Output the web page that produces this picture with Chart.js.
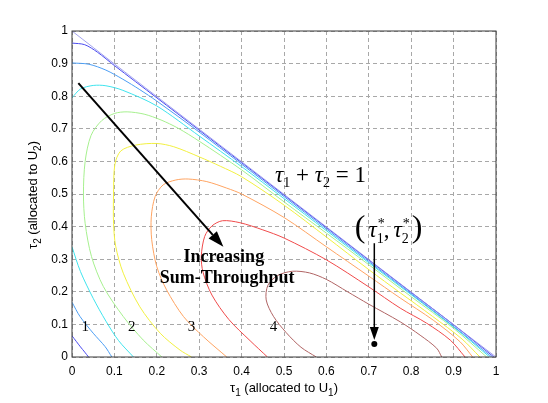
<!DOCTYPE html>
<html>
<head>
<meta charset="utf-8">
<title>Sum-Throughput Contours</title>
<script src="https://cdn.jsdelivr.net/npm/chart.js@4"></script>
<style>
  body { margin: 0; background: #fff; }
  #box { width: 548px; height: 403px; }
</style>
</head>
<body>
<div id="box"><canvas id="contourChart" width="548" height="403"></canvas></div>
<script>
  // ticks (same for both axes)
  const tickValues = [0, 0.1, 0.2, 0.3, 0.4, 0.5, 0.6, 0.7, 0.8, 0.9, 1];
  const tickLabels = ['0', '0.1', '0.2', '0.3', '0.4', '0.5', '0.6', '0.7', '0.8', '0.9', '1'];

  // contour lines, [tau1, tau2] pairs, lowest level first
  const levelDiag = [[0, 1], [0.1, 0.899], [0.3, 0.699], [0.5, 0.499], [0.7, 0.299], [0.9, 0.099], [1, 0]];
  const levelBlueLow = [[0, 0.065], [0.01, 0.048], [0.02, 0.031], [0.03, 0.015], [0.039, 0]];
  const levelBlueHigh = [[0, 0.963], [0.03, 0.958], [0.06, 0.935], [0.1, 0.894], [0.2, 0.795], [0.4, 0.596], [0.6, 0.397], [0.8, 0.198], [0.9, 0.099], [0.995, 0]];
  const levelSkyLow = [[0, 0.168], [0.019, 0.124], [0.05, 0.073], [0.078, 0.032], [0.094, 0]];
  const levelSkyHigh = [[0, 0.902], [0.04, 0.898], [0.08, 0.88], [0.12, 0.852], [0.16, 0.82], [0.2, 0.785], [0.3, 0.69], [0.5, 0.492], [0.7, 0.293], [0.9, 0.094], [0.99, 0]];
  const levelCyanLow = [[0, 0.338], [0.02, 0.262], [0.05, 0.18], [0.08, 0.11], [0.11, 0.05], [0.145, 0]];
  const levelCyanHigh = [[0, 0.795], [0.02, 0.822], [0.05, 0.833], [0.08, 0.832], [0.12, 0.818], [0.2, 0.77], [0.3, 0.678], [0.4, 0.584], [0.5, 0.486], [0.7, 0.289], [0.9, 0.092], [0.985, 0]];
  const levelGreen = [[0.212, 0], [0.168, 0.052], [0.121, 0.124], [0.074, 0.216], [0.046, 0.308], [0.031, 0.41], [0.027, 0.5], [0.031, 0.6], [0.045, 0.68], [0.07, 0.725], [0.1, 0.747], [0.13, 0.752], [0.17, 0.745], [0.21, 0.727], [0.25, 0.702], [0.3, 0.662], [0.4, 0.574], [0.5, 0.476], [0.6, 0.38], [0.7, 0.283], [0.8, 0.185], [0.9, 0.088], [0.978, 0]];
  const levelYellow = [[0.282, 0], [0.255, 0.021], [0.208, 0.073], [0.16, 0.154], [0.121, 0.257], [0.103, 0.34], [0.098, 0.41], [0.098, 0.5], [0.101, 0.59], [0.115, 0.632], [0.15, 0.65], [0.2, 0.655], [0.24, 0.645], [0.3, 0.614], [0.35, 0.585], [0.4, 0.553], [0.5, 0.466], [0.6, 0.368], [0.7, 0.268], [0.774, 0.197], [0.85, 0.125], [0.92, 0.055], [0.962, 0]];
  const levelOrange = [[0.365, 0], [0.31, 0.062], [0.263, 0.124], [0.223, 0.206], [0.2, 0.277], [0.188, 0.36], [0.187, 0.43], [0.196, 0.492], [0.215, 0.528], [0.245, 0.543], [0.274, 0.546], [0.318, 0.538], [0.365, 0.518], [0.4, 0.5], [0.5, 0.428], [0.6, 0.338], [0.7, 0.248], [0.774, 0.181], [0.852, 0.113], [0.915, 0.047], [0.945, 0]];
  const levelRed = [[0.461, 0], [0.42, 0.05], [0.37, 0.115], [0.33, 0.19], [0.309, 0.26], [0.305, 0.31], [0.313, 0.37], [0.33, 0.402], [0.355, 0.418], [0.396, 0.412], [0.45, 0.39], [0.5, 0.365], [0.6, 0.298], [0.7, 0.215], [0.774, 0.15], [0.836, 0.104], [0.892, 0.052], [0.927, 0]];
  const levelBrown = [[0.576, 0], [0.54, 0.03], [0.505, 0.075], [0.475, 0.125], [0.458, 0.175], [0.462, 0.22], [0.485, 0.25], [0.52, 0.263], [0.56, 0.258], [0.6, 0.238], [0.65, 0.2], [0.7, 0.162], [0.774, 0.108], [0.821, 0.067], [0.86, 0.027], [0.872, 0]];

  // optimum point and the level numbers written on the plot
  const optimumPoint = [0.713, 0.04];
  const levelNames = ['1', '2', '3', '4'];
  const levelNameX = [0.031, 0.141, 0.282, 0.475];
  const levelNameY = 0.093;

  const contours = [
    { pts: levelDiag, color: '#8c8ce8', width: 0.8 },
    { pts: levelBlueLow, color: '#4a4af0', width: 1 },
    { pts: levelBlueHigh, color: '#4a4af0', width: 1 },
    { pts: levelSkyLow, color: '#4c9ef4', width: 1 },
    { pts: levelSkyHigh, color: '#4c9ef4', width: 1 },
    { pts: levelCyanLow, color: '#3fe4ee', width: 1 },
    { pts: levelCyanHigh, color: '#3fe4ee', width: 1 },
    { pts: levelGreen, color: '#a6f08e', width: 1 },
    { pts: levelYellow, color: '#f2f040', width: 1 },
    { pts: levelOrange, color: '#ffa462', width: 1 },
    { pts: levelRed, color: '#f04a4a', width: 1 },
    { pts: levelBrown, color: '#b06464', width: 1 }
  ];

  const serif = '"Liberation Serif", "Times New Roman", serif';
  const sans = '"Liberation Sans", Arial, sans-serif';

  // draw a row of text pieces, each with its own font and vertical shift
  function drawPieces(ctx, pieces, x, y, align) {
    let total = 0;
    pieces.forEach(p => {
      ctx.font = p.font;
      p.w = ctx.measureText(p.t).width;
      if (p.sup) {
        ctx.font = p.supFont;
        p.w = Math.max(p.w, ctx.measureText(p.sup).width);
      }
      total += p.w + (p.gap || 0);
    });
    let cx = align === 'center' ? x - total / 2 : x;
    ctx.textBaseline = 'alphabetic';
    ctx.textAlign = 'left';
    pieces.forEach(p => {
      ctx.font = p.font;
      ctx.fillText(p.t, cx, y + (p.dy || 0));
      if (p.sup) {
        ctx.font = p.supFont;
        ctx.fillText(p.sup, cx + 1, y + p.supDy);
      }
      cx += p.w + (p.gap || 0);
    });
  }

  function arrow(ctx, x1, y1, x2, y2, lw, headLen, headHalf) {
    const ang = Math.atan2(y2 - y1, x2 - x1);
    const bx = x2 - headLen * Math.cos(ang);
    const by = y2 - headLen * Math.sin(ang);
    ctx.beginPath();
    ctx.moveTo(x1, y1);
    ctx.lineTo(bx, by);
    ctx.lineWidth = lw;
    ctx.stroke();
    ctx.beginPath();
    ctx.moveTo(x2, y2);
    ctx.lineTo(bx + headHalf * Math.sin(ang), by - headHalf * Math.cos(ang));
    ctx.lineTo(bx - headHalf * Math.sin(ang), by + headHalf * Math.cos(ang));
    ctx.closePath();
    ctx.fill();
  }

  const decorations = {
    id: 'decorations',
    afterDatasetsDraw(chart) {
      const ctx = chart.ctx;
      const xs = chart.scales.x, ys = chart.scales.y;
      const a = chart.chartArea;
      const px = v => xs.getPixelForValue(v);
      const py = v => ys.getPixelForValue(v);
      ctx.save();

      // box around the plot
      ctx.strokeStyle = '#3a3a3a';
      ctx.lineWidth = 1;
      ctx.strokeRect(a.left, a.top, a.right - a.left, a.bottom - a.top);

      ctx.fillStyle = '#000';
      ctx.strokeStyle = '#000';

      // increasing direction arrow
      arrow(ctx, px(0.015), py(0.84), px(0.357), py(0.338), 2, 16, 5.5);
      // arrow down to the optimum
      arrow(ctx, px(optimumPoint[0]), py(0.349), px(optimumPoint[0]), py(0.052), 1.5, 13, 4.5);
      ctx.beginPath();
      ctx.arc(px(optimumPoint[0]), py(optimumPoint[1]), 3, 0, Math.PI * 2);
      ctx.fill();

      // text on the plot
      ctx.textAlign = 'center';
      ctx.textBaseline = 'middle';
      ctx.font = 'bold 18px ' + serif;
      ctx.fillText('Increasing', px(0.358), py(0.307));
      ctx.fillText('Sum-Throughput', px(0.366), py(0.242));

      ctx.font = '15px ' + serif;
      levelNames.forEach((n, i) => ctx.fillText(n, px(levelNameX[i]), py(levelNameY)));

      const big = '23px ' + serif, bigIt = 'italic 23px ' + serif, small = '14px ' + serif;
      drawPieces(ctx, [
        { t: '\u03c4', font: bigIt },
        { t: '1', font: small, dy: 5 },
        { t: ' + ', font: big },
        { t: '\u03c4', font: bigIt },
        { t: '2', font: small, dy: 5 },
        { t: ' = 1', font: big }
      ], px(0.479), py(0.537), 'left');

      drawPieces(ctx, [
        { t: '(', font: '32px ' + serif, gap: 3 },
        { t: '\u03c4', font: bigIt },
        { t: '1', font: small, dy: 6, sup: '*', supFont: small, supDy: -9 },
        { t: ',', font: big, gap: 4 },
        { t: '\u03c4', font: bigIt },
        { t: '2', font: small, dy: 6, sup: '*', supFont: small, supDy: -9, gap: 3 },
        { t: ')', font: '32px ' + serif }
      ], px(0.667), py(0.368), 'left');

      // axis titles
      const lab = '13px ' + sans, labSub = '10px ' + sans;
      drawPieces(ctx, [
        { t: '\u03c4', font: lab },
        { t: '1', font: labSub, dy: 4 },
        { t: ' (allocated to U', font: lab },
        { t: '1', font: labSub, dy: 4 },
        { t: ')', font: lab }
      ], (a.left + a.right) / 2, 392, 'center');

      ctx.translate(37, (a.top + a.bottom) / 2 + 1);
      ctx.rotate(-Math.PI / 2);
      drawPieces(ctx, [
        { t: '\u03c4', font: lab },
        { t: '2', font: labSub, dy: 4 },
        { t: ' (allocated to U', font: lab },
        { t: '2', font: labSub, dy: 4 },
        { t: ')', font: lab }
      ], 0, 0, 'center');

      ctx.restore();
    }
  };

  function axis(pos) {
    return {
      type: 'linear',
      position: pos,
      min: 0,
      max: 1,
      afterBuildTicks: scale => { scale.ticks = tickValues.map(v => ({ value: v })); },
      afterFit: scale => {
        if (pos === 'left') scale.width = 72; else scale.height = 46;
      },
      ticks: {
        autoSkip: false,
        maxRotation: 0,
        padding: pos === 'left' ? 4 : 7,
        color: '#000',
        font: { family: sans, size: 12 },
        callback: (v, i) => tickLabels[i]
      },
      grid: { color: '#a8a8a8', lineWidth: 1, drawTicks: false },
      border: { display: false, dash: [4, 3] }
    };
  }

  new Chart(document.getElementById('contourChart').getContext('2d'), {
    type: 'scatter',
    data: {
      datasets: contours.map(c => ({
        data: c.pts.map(p => ({ x: p[0], y: p[1] })),
        showLine: true,
        borderColor: c.color,
        borderWidth: c.width,
        pointRadius: 0,
        tension: 0.3,
        fill: false
      }))
    },
    options: {
      responsive: false,
      animation: false,
      layout: { padding: { top: 31, right: 52, left: 0, bottom: 0 } },
      plugins: { legend: { display: false }, tooltip: { enabled: false } },
      scales: { x: axis('bottom'), y: axis('left') }
    },
    plugins: [decorations]
  });
</script>
</body>
</html>
